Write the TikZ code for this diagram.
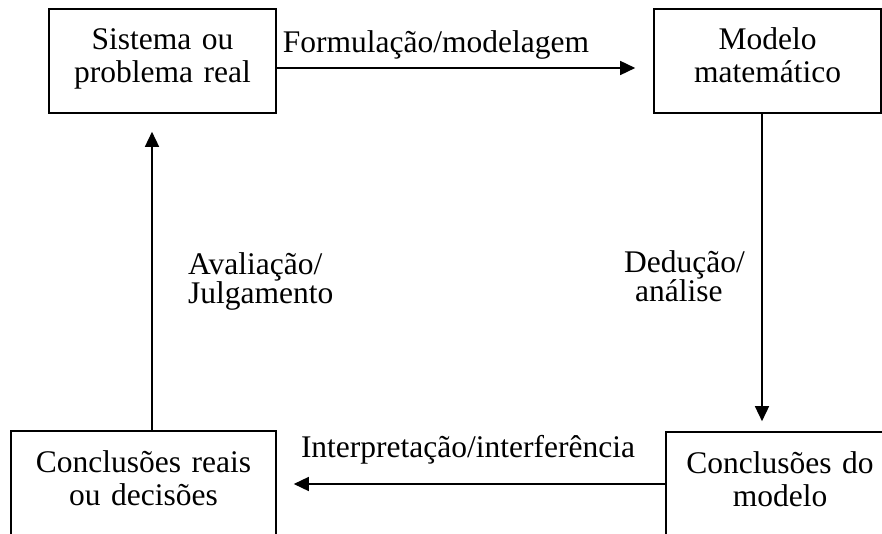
\documentclass[tikz,border=0pt]{standalone}
\usepackage{fontspec}
\setmainfont{Liberation Serif}
\usetikzlibrary{shapes,arrows.meta}

\begin{document}
\begin{tikzpicture}[x=1pt, y=1pt]
		\tikzstyle {caixa} = [draw, line width=1.6pt, inner sep=0pt, minimum height=104pt, text width=227pt, align=center, text height=21pt, text depth=43pt, font=\fontsize{31.5}{33}\selectfont]
		\tikzstyle {rotulo} = [inner sep=0pt, font=\fontsize{31.5}{29}\selectfont]
		\tikzstyle {seta} = [line width=1.5pt, -{Triangle[length=15pt, width=14pt]}]

		\useasboundingbox (0, 0) rectangle (882, 533);

		\node[caixa] (sistema) at (162.5, 472) {Sistema ou\\problema real};
		\node[caixa] (modelo) at (767.5, 472) {Modelo\\matemático};
		\node[caixa, text width=265pt] (reais) at (143.5, 50) {Conclusões reais\\ou decisões};
		\node[caixa, text width=228pt] (conclusoes) at (780, 49) {Conclusões do\\modelo};

		% ciclo
		\draw[seta, shorten >=18pt] ([yshift=-7pt]sistema.east) -- ([yshift=-7pt]sistema.east -| modelo.west);
		\draw[seta, shorten >=10pt] ([xshift=-5.5pt]modelo.south) -- ([xshift=-5.5pt]modelo.south |- conclusoes.north);
		\draw[seta, shorten >=17pt] (conclusoes.west) -- (conclusoes.west -| reais.east);
		\draw[seta, shorten >=18pt] ([xshift=8.5pt]reais.north) -- ([xshift=8.5pt]reais.north |- sistema.south);

		\node[rotulo, anchor=base] (formulacao) at (436, 480) {Formulação/modelagem};
		\node[rotulo, anchor=base west, text width=140pt, align=left] (deducao) at (624, 260) {Dedução/\\\hspace*{11pt}análise};
		\node[rotulo, anchor=base] (interpretacao) at (468, 76) {Interpretação/interferência};
		\node[rotulo, anchor=base west, text width=170pt, align=left] (avaliacao) at (188, 258) {Avaliação/\\Julgamento};
	\end{tikzpicture}
\end{document}
